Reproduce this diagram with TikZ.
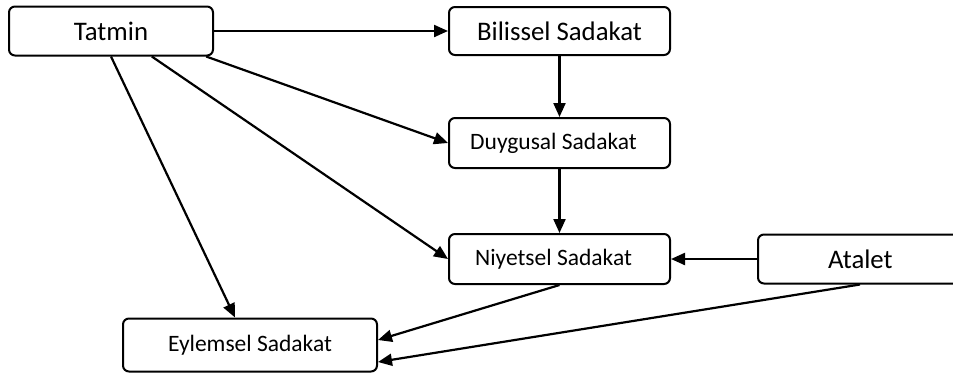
\documentclass[tikz,border=0pt]{standalone}
\usepackage{fontspec}
\setmainfont{Carlito}
\usetikzlibrary{arrows.meta,calc}
\begin{document}
\begin{tikzpicture}[x=1pt,y=-1pt,
  boxnode/.style={draw=black,line width=2pt,rounded corners=6pt,fill=white,inner sep=0pt,anchor=center},
  bigtxt/.style={font=\fontsize{26.8}{31}\selectfont},
  smalltxt/.style={font=\fontsize{23.5}{28}\selectfont},
  conn/.style={line width=2.2pt,-{Triangle[length=14pt,width=12pt]}}]
\useasboundingbox (0,0) rectangle (953,376);
\clip (0,0) rectangle (953,376);
\node[boxnode,bigtxt,minimum width=204pt,minimum height=49pt] (Tatmin) at (111,31) {\raisebox{-2pt}{Tatmin}};
\node[boxnode,bigtxt,minimum width=221pt,minimum height=48pt] (Bilissel) at (559.5,31) {\raisebox{-2pt}{Bilissel Sadakat}};
\node[boxnode,smalltxt,minimum width=221pt,minimum height=50pt] (Duygusal) at (559.5,143) {\hspace{-12pt}\raisebox{-1pt}{Duygusal Sadakat}};
\node[boxnode,smalltxt,minimum width=221pt,minimum height=50pt] (Niyetsel) at (559.5,259) {\hspace{-12pt}\raisebox{-1pt}{Niyetsel Sadakat}};
\node[boxnode,bigtxt,minimum width=240pt,minimum height=49pt,text width=204pt,align=left] (Atalet) at (878,259) {\hspace{52pt}\raisebox{-2pt}{Atalet}};
\node[boxnode,smalltxt,minimum width=254pt,minimum height=53pt] (Eylemsel) at (250,345) {\raisebox{-1pt}{Eylemsel Sadakat}};
\draw[conn] (Tatmin.east) -- (Bilissel.west);
\draw[conn] (Bilissel.south) -- (Duygusal.north);
\draw[conn] (Duygusal.south) -- (Niyetsel.north);
\draw[conn] (Atalet.west) -- (Niyetsel.east);
\draw[conn] (Tatmin.-15) -- (Duygusal.west);
\draw[conn] (Tatmin.-32) -- (Niyetsel.west);
\draw[conn] (Tatmin.south) -- ($(Eylemsel.north)+(-15,0)$);
\draw[conn] (Niyetsel.south) -- ($(Eylemsel.east)+(0,-5)$);
\draw[conn] ($(Atalet.south)+(-18,0)$) -- ($(Eylemsel.east)+(0,17)$);
\end{tikzpicture}
\end{document}
